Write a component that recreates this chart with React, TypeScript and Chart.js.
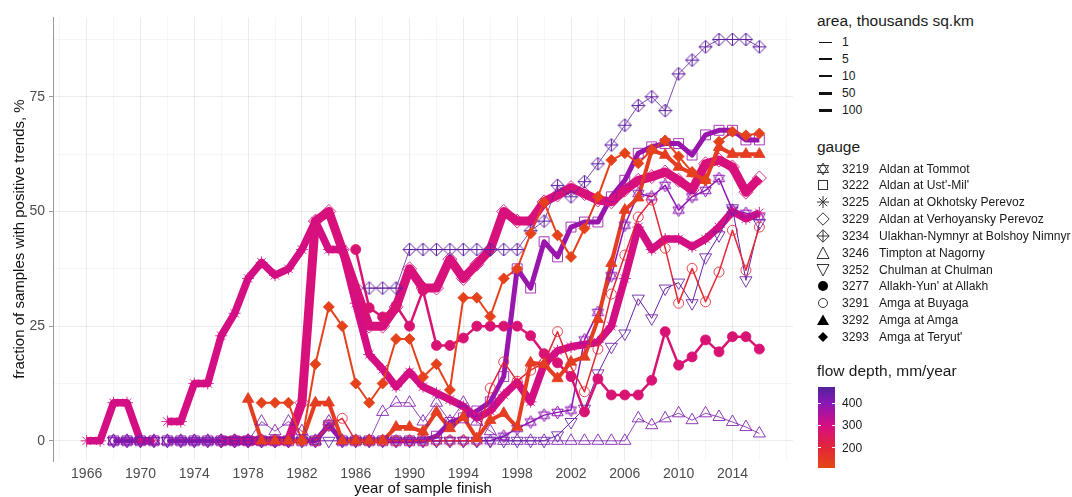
import React, { useEffect, useRef } from 'react';
import { Chart, registerables } from 'chart.js';

Chart.register(...registerables);

const FONT = "'Liberation Sans', Arial, Helvetica, sans-serif";

// ---------- data ----------
const YEARS: number[] = Array.from({ length: 51 }, (_, i) => 1966 + i);
const X_LABELS = [1966, 1970, 1974, 1978, 1982, 1986, 1990, 1994, 1998, 2002, 2006, 2010, 2014];
const X_MINOR = [1964, 1968, 1972, 1976, 1980, 1984, 1988, 1992, 1996, 2000, 2004, 2008, 2012, 2016, 2018];
const Y_LABELS = [0, 25, 50, 75];
const Y_MINOR = [12.5, 37.5, 62.5, 87.5];
const X_MIN = 1963.5, X_MAX = 2018.5, Y_MIN = -4.4, Y_MAX = 92.4;
const GAP_AFTER = [1971];

const GAUGE_CODES = ['3219', '3222', '3225', '3229', '3234', '3246', '3252', '3277', '3291', '3292', '3293'];
const GAUGE_NAMES = [
  'Aldan at Tommot', "Aldan at Ust'-Mil'", 'Aldan at Okhotsky Perevoz', 'Aldan at Verhoyansky Perevoz',
  'Ulakhan-Nymnyr at Bolshoy Nimnyr', 'Timpton at Nagorny', 'Chulman at Chulman', "Allakh-Yun' at Allakh",
  'Amga at Buyaga', 'Amga at Amga', "Amga at Teryut'",
];
const FLOW_DEPTH = [395, 380, 302, 290, 460, 420, 450, 280, 195, 140, 125];
const AREA_LEGEND = [1, 5, 10, 50, 100];
const DEPTH_LABELS = [400, 300, 200];
const DEPTH_MIN = 110, DEPTH_MAX = 472;

const n = null;
// values per year 1966..2016
const V3219 = [n, n, 0, 0, 0, 0, 0, 0, 0, 0, 0, 0, 0, 0, 0, 0, 0, 0, 3.4, 0, 0, 0, 0, 0, 0, 0, 0, 0, 0, 0,
  0, 1, 2.7, 4.1, 5.6, 6.2, 6.7, 22, 28, 36, 47, 53.9, 53.2, 55.7, 50.3, 53.2, 54.6, 57.2, 50.3, 49.6, 48.8];
const V3222 = [n, n, 0, 0, 0, 0, 0, 0, 0, 0, 0, 0, 0, 0, 0, 0, 0, 0, 3.4, 0, 0, 0, 0, 0, 0, 0, 1, 4, 5, 6.5,
  8.5, 14, 37.5, 33.3, 43.4, 40.1, 46.6, 47.7, 47.7, 53.2, 56.8, 62.7, 64.1, 64.8, 64.8, 62.3, 66.7, 67.7, 67.7, 65.6, 65.6];
const V3225 = [0, 0, 8.3, 8.3, 0, 0, 4.2, 4.2, 12.5, 12.5, 22.9, 27.8, 35.4, 38.9, 36.1, 37.5, 41.7, 47.9, 41.7, 41.7,
  30, 18.8, 15.6, 11.8, 15, 11.8, 10.4, 9, 7.5, 5, 6.5, 10, 12.8, 8.5, 16.7, 19.6, 20.5, 21, 21.5, 25,
  35.4, 46.6, 41.7, 44, 44, 42.3, 44, 46.6, 50, 48.4, 49.7];
const V3229 = [n, n, n, n, n, n, n, n, n, n, 0, 0, 0, 0, 0, 0, 8.3, 47.9, 50, 41.7,
  33.3, 25, 25, 29.2, 37.5, 33.3, 33.3, 39.6, 35.4, 38.5, 41.7, 50, 47.9, 47.9, 52.1, 53.6, 55.2, 53.9, 52.5, 52.1,
  54.7, 56.8, 57.6, 58.6, 56.8, 54.7, 60.4, 61.2, 59.7, 54.2, 57.3];
const V3234 = [n, n, n, n, n, n, n, n, n, n, n, n, n, n, n, n, n, n, n, n,
  n, 33.3, 33.3, 33.3, 41.7, 41.7, 41.7, 41.7, 41.7, 41.7, 41.7, 41.7, 41.7, 45.8, 47.9, 55.7, 53.2, 56.5, 60.4, 64.5,
  68.8, 73.1, 75, 72, 80, 83, 85.9, 87.5, 87.5, 87.5, 85.9];
const V3246 = [n, n, 0, 0, 0, 0, 0, 0, 0, 0, 0, 0, 0, 4.2, 2.1, 4.2, 2.1, 0, 4.2, 0,
  0, 0, 6.3, 8.3, 8.3, 4.2, 8.3, 4.2, 8.3, 4.2, 2.1, 0, 0, 0, 0, 0, 0, 0, 0, 0,
  0, 4.9, 3.4, 4.9, 6, 4.5, 6, 5.2, 4.1, 3, 1.6];
const V3252 = [n, n, 0, 0, 0, 0, 0, 0, 0, 0, 0, 0, 0, 0, 0, 0, 0, 0, 0, 0,
  0, 0, 0, 0, 0, 0, 0, 0, 0, 0, 0, 0, 0, 0, 0, 1.2, 4.1, 7, 14.7, 20.5,
  23.4, 31, 26.7, 33.2, 34.5, 30, 40, 44.8, 50.7, 35, 47.5];
const V3277 = [n, n, n, n, n, n, n, n, n, n, n, n, n, n, n, n, n, n, n, n,
  41.7, 29, 27, 29.5, 25, 32.8, 20.8, 20.8, 22.4, 25, 25, 25, 25, 22.9, 19, 17, 14, 6.3, 13.5, 10,
  10, 10, 13.2, 23.8, 16.5, 18.3, 22, 19.4, 22.7, 22.7, 20];
const V3291 = [n, n, n, n, n, n, n, n, n, n, n, n, n, n, n, n, n, 0, 3.4, 4.9,
  0, 0, 0, 0, 0, 0, 0, 0, 0, 0, 11.5, 17.2, 13, 15.4, 17, 23.8, 16.1, 10.7, 20, 32,
  40.5, 48.8, 52.5, 42, 30, 37.6, 30.3, 36.8, 45.9, 37.2, 46.6];
const V3292 = [n, n, n, n, n, n, n, n, n, n, n, n, 9.1, 0, 0, 0, 0, 8.3, 8.3, 0,
  0, 0, 0, 3, 3, 2, 6.3, 2.7, 5.2, 0.5, 4.5, 6, 3, 17, 16.7, 13.6, 17.2, 18.3, 26.5, 38.7,
  50.3, 53, 63.4, 62.3, 59.7, 58.3, 56.8, 64, 62.5, 62.5, 62.5];
const V3293 = [n, n, n, n, n, n, n, n, n, n, n, n, n, 8.3, 8.3, 8.3, 0, 16.7, 29.2, 25,
  12.5, 8.3, 12.5, 22.2, 22.2, 13.9, 16.7, 11.1, 31.2, 31.2, 27.1, 35.4, 37.5, 45.2, 52, 44.8, 40.1, 46.3, 53.2, 61.2,
  62.7, 60.5, 63.4, 65.5, 62, 58.6, 56.8, 65.2, 67.4, 66.6, 67];

const VALUES = [V3219, V3222, V3225, V3229, V3234, V3246, V3252, V3277, V3291, V3292, V3293];

// ---------- styles ----------
type MarkerKind = 'star6' | 'square' | 'asterisk' | 'diamond' | 'diamondPlus' | 'triUp' | 'triDown' | 'dot' | 'ring' | 'triFill' | 'diamondFill';
const MARKERS: MarkerKind[] = ['star6', 'square', 'asterisk', 'diamond', 'diamondPlus', 'triUp', 'triDown', 'dot', 'ring', 'triFill', 'diamondFill'];
const LINE_W = [1.5, 5, 7.5, 9, 0.8, 0.8, 1, 2.5, 1.5, 4, 2];
const AREA_KEY_W = [1, 1.6, 2, 3, 3.6];

const COLOR_STOPS: [number, number[]][] = [
  [110, [229, 72, 22]],
  [200, [227, 38, 56]],
  [300, [214, 14, 130]],
  [400, [138, 24, 182]],
  [475, [84, 34, 156]],
];
function depthRGB(v: number): number[] {
  if (v <= COLOR_STOPS[0][0]) return COLOR_STOPS[0][1];
  for (let i = 1; i < COLOR_STOPS.length; i++) {
    const [v1, c1] = COLOR_STOPS[i];
    const [v0, c0] = COLOR_STOPS[i - 1];
    if (v <= v1) {
      const t = (v - v0) / (v1 - v0);
      return c0.map((c, k) => Math.round(c + (c1[k] - c) * t));
    }
  }
  return COLOR_STOPS[COLOR_STOPS.length - 1][1];
}
function depthColor(v: number, a = 1) {
  const [r, g, b] = depthRGB(v);
  return `rgba(${r},${g},${b},${a})`;
}

function makeCanvasMarker(kind: MarkerKind, color: string): HTMLCanvasElement {
  const size = 15;
  const c = document.createElement('canvas');
  c.width = size; c.height = size;
  const g = c.getContext('2d')!;
  g.strokeStyle = color; g.lineWidth = 1;
  const h = size / 2, r = h - 1;
  if (kind === 'star6') {
    const s = Math.cos(Math.PI / 6) * r;
    g.beginPath();
    g.moveTo(h, h - r); g.lineTo(h + s, h + r / 2); g.lineTo(h - s, h + r / 2); g.closePath();
    g.moveTo(h, h + r); g.lineTo(h + s, h - r / 2); g.lineTo(h - s, h - r / 2); g.closePath();
    g.stroke();
  } else {
    g.beginPath();
    g.moveTo(h, h - r); g.lineTo(h + r, h); g.lineTo(h, h + r); g.lineTo(h - r, h); g.closePath();
    g.moveTo(h, h - r); g.lineTo(h, h + r); g.moveTo(h - r, h); g.lineTo(h + r, h);
    g.stroke();
  }
  return c;
}

function pointOpts(kind: MarkerKind, color: string) {
  const open = 'rgba(0,0,0,0)';
  switch (kind) {
    case 'star6': return { pointStyle: makeCanvasMarker('star6', color), pointRadius: 7 };
    case 'diamondPlus': return { pointStyle: makeCanvasMarker('diamondPlus', color), pointRadius: 7 };
    case 'square': return { pointStyle: 'rect', pointRadius: 7, pointBackgroundColor: open };
    case 'asterisk': return { pointStyle: 'star', pointRadius: 6, pointBackgroundColor: open };
    case 'diamond': return { pointStyle: 'rectRot', pointRadius: 7, pointBackgroundColor: open };
    case 'triUp': return { pointStyle: 'triangle', pointRadius: 7, pointBackgroundColor: open };
    case 'triDown': return { pointStyle: 'triangle', pointRadius: 7, pointRotation: 180, pointBackgroundColor: open };
    case 'dot': return { pointStyle: 'circle', pointRadius: 5, pointBackgroundColor: color };
    case 'ring': return { pointStyle: 'circle', pointRadius: 5, pointBackgroundColor: open };
    case 'triFill': return { pointStyle: 'triangle', pointRadius: 6.5, pointBackgroundColor: color };
    case 'diamondFill': return { pointStyle: 'rectRot', pointRadius: 5.5, pointBackgroundColor: color };
  }
}

function LegendIcon({ kind }: { kind: MarkerKind }) {
  const st = '#333';
  const common = { fill: 'none', stroke: st, strokeWidth: 1 };
  let body: any = null;
  switch (kind) {
    case 'star6': body = (<g {...common}><polygon points="7,1 12.6,10.5 1.4,10.5" /><polygon points="7,13 12.6,3.5 1.4,3.5" /></g>); break;
    case 'square': body = <rect x={2.5} y={2.5} width={9} height={9} {...common} />; break;
    case 'asterisk': body = (<g {...common}><line x1={7} y1={1} x2={7} y2={13} /><line x1={1} y1={7} x2={13} y2={7} /><line x1={2.8} y1={2.8} x2={11.2} y2={11.2} /><line x1={11.2} y1={2.8} x2={2.8} y2={11.2} /></g>); break;
    case 'diamond': body = <polygon points="7,0.8 13.2,7 7,13.2 0.8,7" {...common} />; break;
    case 'diamondPlus': body = (<g {...common}><polygon points="7,0.8 13.2,7 7,13.2 0.8,7" /><line x1={7} y1={0.8} x2={7} y2={13.2} /><line x1={0.8} y1={7} x2={13.2} y2={7} /></g>); break;
    case 'triUp': body = <polygon points="7,1 13,12.5 1,12.5" {...common} />; break;
    case 'triDown': body = <polygon points="7,13 13,1.5 1,1.5" {...common} />; break;
    case 'dot': body = <circle cx={7} cy={7} r={5} fill="#000" />; break;
    case 'ring': body = <circle cx={7} cy={7} r={4.5} {...common} />; break;
    case 'triFill': body = <polygon points="7,1.5 13,12 1,12" fill="#000" />; break;
    case 'diamondFill': body = <polygon points="7,2 12,7 7,12 2,7" fill="#000" />; break;
  }
  return <svg width={14} height={14} style={{ position: 'absolute', left: 816, overflow: 'visible' }}>{body}</svg>;
}

export default function App() {
  const ref = useRef<HTMLCanvasElement>(null);

  useEffect(() => {
    const canvas = ref.current!;
    const N = GAUGE_CODES.length;
    const datasets: any[] = [];
    GAUGE_CODES.forEach((code, i) => {
      const color = depthColor(FLOW_DEPTH[i]);
      const pts = YEARS.map((yr, k) => ({ x: yr, y: VALUES[i][k] }));
      datasets.push({
        type: 'line', label: code, data: pts, borderColor: color, borderWidth: LINE_W[i],
        pointRadius: 0, tension: 0, spanGaps: false, fill: false, borderJoinStyle: 'round',
        order: 100 + N - i,
        segment: { borderColor: (ctx: any) => (GAP_AFTER.includes(ctx.p0.parsed.x) ? 'rgba(0,0,0,0)' : undefined) },
      });
      datasets.push({
        type: 'line', label: code + ' points', data: pts, showLine: false,
        pointBorderColor: depthColor(FLOW_DEPTH[i], 0.85), pointBorderWidth: 1,
        ...pointOpts(MARKERS[i], color),
        order: N - i,
      });
    });

    const isMajorX = (v: number) => X_LABELS.includes(v);
    const isMajorY = (v: number) => Y_LABELS.includes(v);

    const chart = new Chart(canvas, {
      type: 'line',
      data: { datasets },
      options: {
        animation: false,
        responsive: false,
        maintainAspectRatio: false,
        devicePixelRatio: 1,
        events: [],
        layout: { padding: { top: 17, right: 0, left: 0, bottom: 0 } },
        plugins: { legend: { display: false }, tooltip: { enabled: false } },
        scales: {
          x: {
            type: 'linear', min: X_MIN, max: X_MAX,
            afterBuildTicks: (s: any) => { s.ticks = [...X_LABELS, ...X_MINOR].sort((a, b) => a - b).map((v) => ({ value: v })); },
            afterFit: (s: any) => { s.height = 36; },
            ticks: {
              autoSkip: false, maxRotation: 0, padding: 1,
              callback: (v: any) => (isMajorX(v) ? String(v) : ''),
              font: { family: FONT, size: 14 }, color: '#4d4d4d',
            },
            grid: {
              color: (ctx: any) => (ctx.tick && isMajorX(ctx.tick.value) ? 'rgba(0,0,0,0.075)' : 'rgba(0,0,0,0.035)'),
              tickColor: 'rgba(0,0,0,0)', tickLength: 4,
            },
            border: { display: false },
            title: { display: true, text: 'year of sample finish', font: { family: FONT, size: 15 }, color: '#111', padding: { top: 0, bottom: -1 } },
          },
          y: {
            type: 'linear', min: Y_MIN, max: Y_MAX,
            afterBuildTicks: (s: any) => { s.ticks = [...Y_LABELS, ...Y_MINOR].sort((a, b) => a - b).map((v) => ({ value: v })); },
            afterFit: (s: any) => { s.width = 53; },
            ticks: {
              padding: 4,
              callback: (v: any) => (isMajorY(v) ? String(v) : ''),
              font: { family: FONT, size: 14 }, color: '#4d4d4d',
            },
            grid: {
              color: (ctx: any) => (ctx.tick && isMajorY(ctx.tick.value) ? 'rgba(0,0,0,0.075)' : 'rgba(0,0,0,0.035)'),
              tickColor: (ctx: any) => (ctx.tick && isMajorY(ctx.tick.value) ? '#999' : 'rgba(0,0,0,0)'),
              tickLength: 4,
            },
            border: { display: true, color: '#999', width: 1 },
            title: { display: true, text: 'fraction of samples with positive trends, %', font: { family: FONT, size: 15 }, color: '#111', padding: { top: 11, bottom: 0 } },
          },
        },
      } as any,
    });
    return () => chart.destroy();
  }, []);

  const gradStops = COLOR_STOPS.map(([v]) => {
    const p = Math.max(0, Math.min(100, ((v - DEPTH_MIN) / (DEPTH_MAX - DEPTH_MIN)) * 100));
    return `${depthColor(v)} ${p.toFixed(1)}%`;
  }).join(', ');
  const barTop = 387, barH = 81;
  const depthY = (v: number) => barTop + barH * (1 - (v - DEPTH_MIN) / (DEPTH_MAX - DEPTH_MIN));

  const txt = (extra: any) => ({ position: 'absolute' as const, fontFamily: FONT, color: '#1a1a1a', whiteSpace: 'nowrap' as const, ...extra });
  const ITEM_FS = 12.1;

  return (
    <div style={{ position: 'absolute', left: 0, top: 0, width: 1072, height: 497, background: '#fff', overflow: 'hidden' }}>
      <canvas ref={ref} width={801} height={497} style={{ position: 'absolute', left: 0, top: 0, width: 801, height: 497 }} />

      <div style={txt({ left: 817, top: 11, fontSize: 15.5, lineHeight: '20px' })}>area, thousands sq.km</div>
      {AREA_LEGEND.map((a, i) => {
        const cy = 42 + i * 17.1;
        return (
          <React.Fragment key={a}>
            <div style={{ position: 'absolute', left: 819, top: cy - AREA_KEY_W[i] / 2, width: 13, height: AREA_KEY_W[i], background: '#111' }} />
            <div style={txt({ left: 842, top: cy - 8, fontSize: ITEM_FS, lineHeight: '16px' })}>{a}</div>
          </React.Fragment>
        );
      })}

      <div style={txt({ left: 817, top: 137, fontSize: 15.5, lineHeight: '20px' })}>gauge</div>
      {GAUGE_CODES.map((code, i) => {
        const cy = 168.5 + i * 16.85;
        return (
          <div key={code} style={{ position: 'absolute', left: 0, top: cy - 7, width: 1072, height: 14 }}>
            <LegendIcon kind={MARKERS[i]} />
            <div style={txt({ left: 842, top: -1, fontSize: ITEM_FS, lineHeight: '16px' })}>{code}</div>
            <div style={txt({ left: 879, top: -1, fontSize: ITEM_FS, lineHeight: '16px' })}>{GAUGE_NAMES[i]}</div>
          </div>
        );
      })}

      <div style={txt({ left: 817, top: 361, fontSize: 15.5, lineHeight: '20px' })}>flow depth, mm/year</div>
      <div style={{ position: 'absolute', left: 818, top: barTop, width: 17, height: barH, background: `linear-gradient(to top, ${gradStops})` }} />
      {DEPTH_LABELS.map((v) => {
        const y = depthY(v);
        return (
          <React.Fragment key={v}>
            <div style={{ position: 'absolute', left: 818, top: y - 0.5, width: 3, height: 1, background: '#fff' }} />
            <div style={{ position: 'absolute', left: 832, top: y - 0.5, width: 3, height: 1, background: '#fff' }} />
            <div style={txt({ left: 842, top: y - 8, fontSize: ITEM_FS, lineHeight: '16px' })}>{v}</div>
          </React.Fragment>
        );
      })}
    </div>
  );
}
